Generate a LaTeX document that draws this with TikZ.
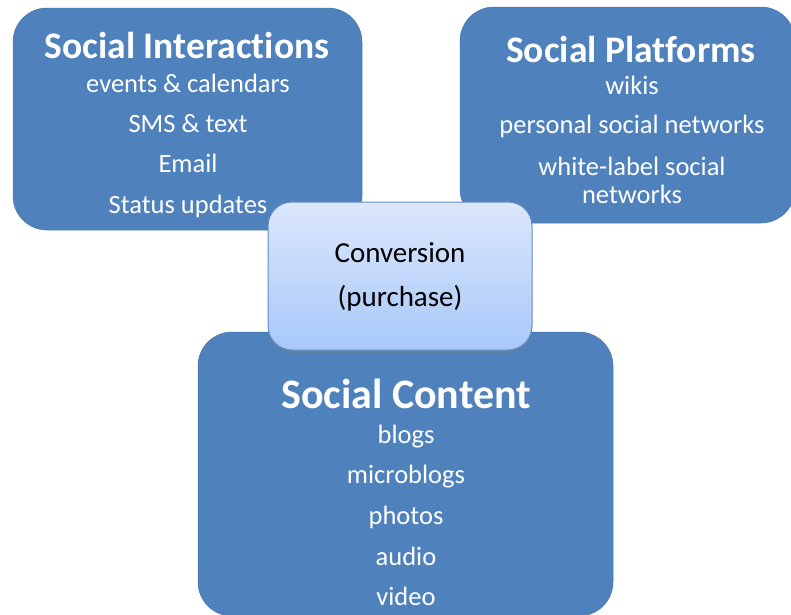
\documentclass[tikz,border=0pt]{standalone}
\usepackage{fontspec}
\setmainfont{Carlito}[Ligatures={NoCommon}]
\usetikzlibrary{shadows}
\definecolor{boxblue}{HTML}{4F81BD}
\definecolor{convtop}{HTML}{DCE7FB}
\definecolor{convbot}{HTML}{A8C8FA}
\begin{document}
\begin{tikzpicture}[x=1pt,y=-1pt,
  group/.style={fill=boxblue,draw=boxblue!92!black,line width=0.5pt,rounded corners=34pt,inner sep=0pt},
  heading/.style={white,font=\bfseries\fontsize{37.5}{40}\selectfont,anchor=base},
  bigheading/.style={heading,font=\bfseries\fontsize{42}{46}\selectfont},
  entry/.style={white,font=\fontsize{26.5}{30}\selectfont,anchor=base},
  goal/.style={top color=convtop,bottom color=convbot,draw=boxblue!90,line width=1pt,rounded corners=24pt,inner sep=0pt,
    drop shadow={shadow xshift=0pt,shadow yshift=-3pt,opacity=0.4}},
  goaltext/.style={black,font=\fontsize{29}{32}\selectfont,anchor=base}]
\useasboundingbox (0,0) rectangle (791,614);
\clip (0,0) rectangle (791,614);
% the three groups
\node[group,minimum width=349pt,minimum height=222pt] (inter) at (187.5,119) {};
\node[group,minimum width=335pt,minimum height=216pt] (plat) at (627.5,115) {};
\node[group,minimum width=415pt,minimum height=284pt] (content) at (405.5,474) {};
% Social Interactions
\node[heading] (interhead) at (187,58) {Social Interactions};
\node[entry] (events) at (188,92) {events \& calendars};
\node[entry] (sms) at (188,132) {SMS \& text};
\node[entry] (email) at (188,172) {Email};
\node[entry] (status) at (188,213) {Status updates};
% Social Platforms
\node[heading] (plathead) at (631,62) {Social Platforms};
\node[entry] (wikis) at (632,94) {wikis};
\node[entry] (personal) at (632,133) {personal social networks};
\node[entry] (white) at (632,175) {white-label social};
\node[entry] (networks) at (632,203) {networks};
% Social Content
\node[bigheading] (conthead) at (406,408) {Social Content};
\node[entry] (blogs) at (406,443) {blogs};
\node[entry] (micro) at (406,483) {microblogs};
\node[entry] (photos) at (406,524) {photos};
\node[entry] (audio) at (406,565) {audio};
\node[entry] (video) at (406,605) {video};
% conversion on top
\node[goal,minimum width=264pt,minimum height=148pt] (conv) at (400,276) {};
\node[goaltext] (convword) at (400,262) {Conversion};
\node[goaltext] (purchase) at (400,306) {(purchase)};
\end{tikzpicture}
\end{document}
